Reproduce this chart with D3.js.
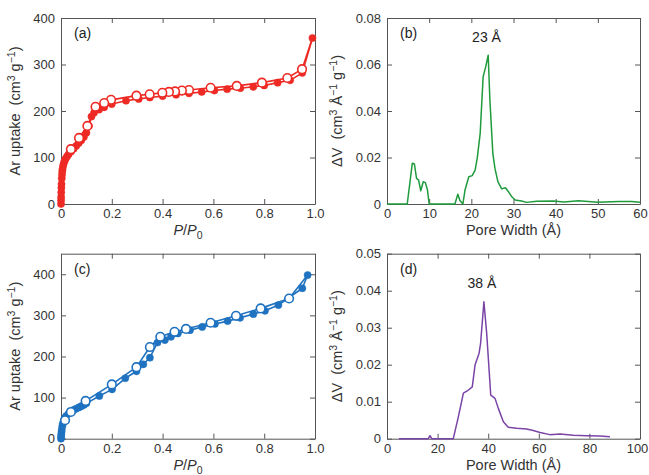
<!DOCTYPE html>
<meta charset="utf-8">
<style>
body { margin: 0; background: #fff; }
svg { font-family: "Liberation Sans", Arial, sans-serif; }
.axis text { font-size: 13px; fill: #333; }
.axis path, .axis line { stroke: #555; }
.title { font-size: 14.5px; fill: #333; }
.tag { font-size: 14px; fill: #222; }
</style>
<body>
<script src="https://cdn.jsdelivr.net/npm/d3@7"></script>
<script>
// (a) isotherm, adsorption (filled) and desorption (open)
var aAdsP = [0, 0.0003, 0.0006, 0.001, 0.0015, 0.002, 0.003, 0.004, 0.005, 0.006, 0.008, 0.01, 0.013, 0.016, 0.02, 0.025, 0.03, 0.04, 0.05, 0.06, 0.07, 0.08, 0.09, 0.1, 0.11, 0.12, 0.13, 0.15, 0.17, 0.2, 0.256, 0.306, 0.35, 0.4, 0.453, 0.504, 0.554, 0.604, 0.654, 0.706, 0.757, 0.8, 0.853, 0.902, 0.95, 0.99];
var aAdsV = [0, 8, 15, 25, 35, 43, 55, 63, 70, 75, 81, 86, 91, 95, 99, 103, 107, 113, 119, 125, 131, 137, 144, 153, 168, 188, 196, 203, 208, 215, 222, 226, 229, 232, 235, 238, 241, 244, 247, 249, 252, 255, 261, 266, 282, 357];
var aDesP = [0.99, 0.949, 0.891, 0.791, 0.692, 0.589, 0.504, 0.476, 0.449, 0.425, 0.399, 0.349, 0.297, 0.197, 0.17, 0.136, 0.104, 0.071, 0.039];
var aDesV = [357, 290, 271, 261, 254, 250, 245, 244, 242, 241, 239, 236, 233, 224, 217, 209, 168, 142, 118];

// (c) isotherm
var cAdsP = [0, 0.0005, 0.001, 0.002, 0.003, 0.005, 0.007, 0.01, 0.015, 0.02, 0.03, 0.04, 0.05, 0.06, 0.07, 0.08, 0.09, 0.1, 0.151, 0.201, 0.253, 0.297, 0.324, 0.35, 0.38, 0.409, 0.433, 0.46, 0.508, 0.556, 0.606, 0.656, 0.705, 0.757, 0.803, 0.856, 0.95, 0.971];
var cAdsV = [0, 5, 10, 16, 22, 30, 36, 42, 50, 55, 61, 66, 70, 73, 76, 79, 82, 86, 104, 120, 147, 164, 181, 197, 234, 240, 248, 256, 264, 272, 279, 286, 294, 303, 311, 325, 366, 398];
var cDesP = [0.971, 0.898, 0.786, 0.689, 0.589, 0.492, 0.447, 0.391, 0.35, 0.297, 0.2, 0.097, 0.039, 0.016];
var cDesV = [398, 341, 317, 299, 282, 267, 260, 248, 223, 174, 132, 92, 65, 45];

// (b) pore size distribution
var bW = [0, 4.8, 6.0, 6.5, 7.0, 7.5, 8.0, 8.6, 9.1, 9.6, 10.0, 16.1, 16.8, 17.3, 18.0, 18.5, 19.4, 20.2, 20.9, 21.4, 22.1, 22.8, 23.4, 24.0, 24.4, 25.1, 25.6, 26.3, 27.2, 28.1, 28.8, 29.6, 30.4, 31.9, 33.1, 35.5, 39.4, 42, 45.4, 50, 55, 58, 60];
var bV = [0, 0, 0.0175, 0.0172, 0.011, 0.0103, 0.0057, 0.0096, 0.0092, 0.006, 0, 0, 0.0042, 0.0015, 0, 0.006, 0.0117, 0.0122, 0.0146, 0.0197, 0.0304, 0.0548, 0.059, 0.064, 0.0447, 0.0218, 0.0153, 0.0096, 0.0065, 0.007, 0.0053, 0.0031, 0.0017, 0.0013, 0.0007, 0.0012, 0.0013, 0.0009, 0.0014, 0.0008, 0.0011, 0.0011, 0.0008];

// (d) pore size distribution
var dW = [4.7, 16.3, 17, 17.7, 26.2, 28.2, 30.2, 31.7, 33.7, 34.8, 36.4, 37.0, 38.3, 39.4, 41.0, 42.7, 44.0, 46.0, 47.9, 51.3, 55.2, 57.8, 60.5, 64.4, 68.4, 73.6, 78.9, 84.2, 88.1];
var dV = [0, 0, 0.0008, 0, 0, 0.0059, 0.0123, 0.0129, 0.014, 0.0199, 0.0231, 0.0258, 0.037, 0.0285, 0.0118, 0.0109, 0.0082, 0.0046, 0.0031, 0.0028, 0.0026, 0.0022, 0.0017, 0.0011, 0.0013, 0.0009, 0.0008, 0.0007, 0.0005];

var red = "#ee2a24", blue = "#1f72c0", green = "#1f9a3c", purple = "#7a44a6";

var svg = d3.select("body").append("svg")
    .attr("width", 649)
    .attr("height", 475);

function zip(xs, ys) { return xs.map(function(x, i) { return [x, ys[i]]; }); }

function panel(o) {
  var g = svg.append("g").attr("transform", "translate(" + o.left + "," + o.top + ")");
  var x = d3.scaleLinear().domain(o.xd).range([0, o.w]);
  var y = d3.scaleLinear().domain(o.yd).range([o.h, 0]);

  var bottom = g.append("g").attr("class", "axis")
      .attr("transform", "translate(0," + o.h + ")")
      .call(d3.axisBottom(x).tickValues(o.xt).tickFormat(o.xf).tickSizeInner(-5).tickSizeOuter(0).tickPadding(5));
  // last label sits right at the page edge
  if (o.lastDx) bottom.selectAll(".tick:last-of-type text").attr("dx", o.lastDx);
  g.append("g").attr("class", "axis")
      .call(d3.axisTop(x).tickValues(o.xt).tickFormat("").tickSizeInner(-5).tickSizeOuter(0));
  g.append("g").attr("class", "axis")
      .call(d3.axisLeft(y).tickValues(o.yt).tickFormat(o.yf).tickSizeInner(-5).tickSizeOuter(0).tickPadding(6));
  g.append("g").attr("class", "axis")
      .attr("transform", "translate(" + o.w + ",0)")
      .call(d3.axisRight(y).tickValues(o.yt).tickFormat("").tickSizeInner(-5).tickSizeOuter(0));
  g.selectAll(".axis .tick line").attr("stroke", "#555");

  var line = d3.line().x(function(d) { return x(d[0]); }).y(function(d) { return y(d[1]); });

  o.series.forEach(function(s) {
    g.append("path").datum(s.data)
        .attr("fill", "none").attr("stroke", o.color)
        .attr("stroke-width", s.lw || 1.6).attr("stroke-linejoin", "round")
        .attr("d", line);
  });
  o.series.forEach(function(s) {
    if (!s.marker) return;
    // the first desorption point is the last adsorption point: keep it filled
    var pts = s.marker === "open" ? s.data.slice(1) : s.data;
    g.selectAll(null).data(pts).enter().append("circle")
        .attr("cx", function(d) { return x(d[0]); })
        .attr("cy", function(d) { return y(d[1]); })
        .attr("r", s.marker === "open" ? 4.3 : 3.6)
        .attr("fill", s.marker === "open" ? "#fff" : o.color)
        .attr("stroke", o.color)
        .attr("stroke-width", s.marker === "open" ? 1.6 : 0.5);
  });

  // tag and peak label
  g.append("text").attr("class", "tag").attr("x", 13).attr("y", 20).text(o.tag);
  if (o.peak) {
    g.append("text").attr("class", "tag").attr("text-anchor", "middle")
        .attr("x", x(o.peak[0])).attr("y", o.peak[1]).text(o.peak[2]);
  }

  // x title
  var xt = g.append("text").attr("class", "title").attr("text-anchor", "middle")
      .attr("x", o.w / 2).attr("y", o.h + 31);
  o.xtitle(xt);

  // y title
  var yt = g.append("text").attr("class", "title").attr("text-anchor", "middle")
      .attr("transform", "translate(" + o.ylx + "," + (o.h / 2) + ") rotate(-90)");
  o.ytitle(yt);
}

function ppTitle(t) {
  t.append("tspan").attr("font-style", "italic").text("P");
  t.append("tspan").text("/");
  t.append("tspan").attr("font-style", "italic").text("P");
  t.append("tspan").attr("font-size", "10.5px").attr("dy", 4).text("0");
}
function pwTitle(t) { t.text("Pore Width (Å)"); }
function upTitle(t) {
  t.append("tspan").text("Ar uptake\u00a0\u00a0(cm");
  t.append("tspan").attr("font-size", "10.5px").attr("dy", -5).text("3");
  t.append("tspan").attr("dy", 5).text(" g");
  t.append("tspan").attr("font-size", "10.5px").attr("dy", -5).text("−1");
  t.append("tspan").attr("dy", 5).text(")");
}
function dvTitle(t) {
  t.append("tspan").text("ΔV\u00a0\u00a0(cm");
  t.append("tspan").attr("font-size", "10.5px").attr("dy", -5).text("3");
  t.append("tspan").attr("dy", 5).text(" Å");
  t.append("tspan").attr("font-size", "10.5px").attr("dy", -5).text("−1");
  t.append("tspan").attr("dy", 5).text(" g");
  t.append("tspan").attr("font-size", "10.5px").attr("dy", -5).text("−1");
  t.append("tspan").attr("dy", 5).text(")");
}

panel({
  left: 61, top: 18, w: 254, h: 186, color: red, tag: "(a)",
  xd: [0, 1], xt: [0, 0.2, 0.4, 0.6, 0.8, 1.0], xf: function(d) { return d === 0 ? "0" : d.toFixed(1); },
  yd: [0, 400], yt: [0, 100, 200, 300, 400], yf: d3.format("d"),
  xtitle: ppTitle, ytitle: upTitle, ylx: -41,
  series: [
    { data: zip(aAdsP, aAdsV), marker: "filled" },
    { data: zip(aDesP, aDesV), marker: "open" }
  ]
});

panel({
  left: 387, top: 18, w: 253, h: 186, color: green, tag: "(b)",
  xd: [0, 60], xt: [0, 10, 20, 30, 40, 50, 60], xf: d3.format("d"),
  yd: [0, 0.08], yt: [0, 0.02, 0.04, 0.06, 0.08], yf: function(d) { return d === 0 ? "0" : d.toFixed(2); },
  xtitle: pwTitle, ytitle: dvTitle, ylx: -45, peak: [23.6, 24, "23 Å"],
  series: [ { data: zip(bW, bV), lw: 1.5 } ]
});

panel({
  left: 61, top: 253.7, w: 254, h: 185, color: blue, tag: "(c)",
  xd: [0, 1], xt: [0, 0.2, 0.4, 0.6, 0.8, 1.0], xf: function(d) { return d === 0 ? "0" : d.toFixed(1); },
  yd: [0, 450], yt: [0, 100, 200, 300, 400], yf: d3.format("d"),
  xtitle: ppTitle, ytitle: upTitle, ylx: -41,
  series: [
    { data: zip(cAdsP, cAdsV), marker: "filled" },
    { data: zip(cDesP, cDesV), marker: "open" }
  ]
});

panel({
  left: 387, top: 253.7, w: 253, h: 185, color: purple, tag: "(d)",
  xd: [0, 100], xt: [0, 20, 40, 60, 80, 100], xf: d3.format("d"),
  yd: [0, 0.05], yt: [0, 0.01, 0.02, 0.03, 0.04, 0.05], yf: function(d) { return d === 0 ? "0" : d.toFixed(2); },
  xtitle: pwTitle, ytitle: dvTitle, ylx: -45, peak: [37.5, 34, "38 Å"], lastDx: -3,
  series: [ { data: zip(dW, dV), lw: 1.5 } ]
});
</script>
